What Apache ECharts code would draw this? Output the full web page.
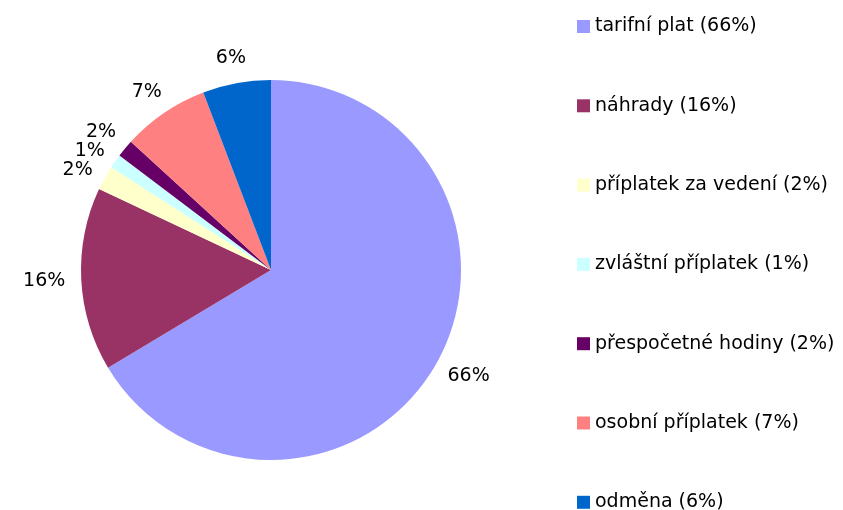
<!DOCTYPE html>
<html>
<head>
<meta charset="utf-8">
<script src="https://cdn.jsdelivr.net/npm/echarts@6/dist/echarts.min.js"></script>
<style>
    html, body { margin: 0; padding: 0; background: #fff; }
    #chart { width: 843px; height: 510px; }
</style>
</head>
<body>
<div id="chart"></div>
<script>
// slice names and shares
var categories = ['tarifní plat', 'náhrady', 'příplatek za vedení', 'zvláštní příplatek',
    'přespočetné hodiny', 'osobní příplatek', 'odměna'];
var values = [66.4, 15.6, 2.1, 1.2, 1.5, 7.4, 5.8];
var colors = ['#9999FF', '#993366', '#FFFFCC', '#CCFFFF', '#660066', '#FF8080', '#0066CC'];

var FONT = '"DejaVu Sans", sans-serif';
var CX = 271, CY = 270, R = 190;
var LABEL_GAP = 16;

var total = values.reduce(function (a, b) { return a + b; }, 0);
var pct = {};
var midAngle = [];
var cum = 0;
categories.forEach(function (c, i) {
    pct[c] = Math.round(values[i] / total * 100);
    // angle from 12 o'clock, clockwise
    midAngle.push((cum + values[i] / 2) / total * 2 * Math.PI);
    cum += values[i];
});

var chart = echarts.init(document.getElementById('chart'));

chart.setOption({
    animation: false,
    color: colors,
    legend: {
        orient: 'vertical',
        left: 577,
        top: 17,
        height: 500,
        padding: 0,
        itemWidth: 13,
        itemHeight: 13,
        itemGap: 60.3,
        icon: 'rect',
        data: categories,
        formatter: function (name) {
            return name + ' (' + pct[name] + '%)';
        },
        textStyle: {
            fontFamily: FONT,
            fontSize: 19,
            color: '#000'
        }
    },
    series: [{
        type: 'pie',
        center: [CX, CY],
        radius: R,
        startAngle: 90,
        clockwise: true,
        label: {
            position: 'outside',
            fontFamily: FONT,
            fontSize: 19,
            color: '#000',
            overflow: 'none',
            formatter: function (p) {
                return Math.round(p.percent) + '%';
            }
        },
        labelLine: { show: false },
        // put each label just outside the rim, box centred on the slice's middle direction
        labelLayout: function (p) {
            var a = midAngle[p.dataIndex];
            var dx = Math.sin(a), dy = -Math.cos(a);
            var w = p.labelRect.width, h = p.labelRect.height;
            return {
                x: CX + dx * (R + LABEL_GAP) + dx * w / 2,
                y: CY + dy * (R + LABEL_GAP) + dy * h / 2,
                align: 'center',
                verticalAlign: 'middle',
                moveOverlap: 'shiftY'
            };
        },
        itemStyle: { borderWidth: 0 },
        emphasis: { disabled: true },
        data: categories.map(function (c, i) {
            return { name: c, value: values[i] };
        })
    }]
});
</script>
</body>
</html>
